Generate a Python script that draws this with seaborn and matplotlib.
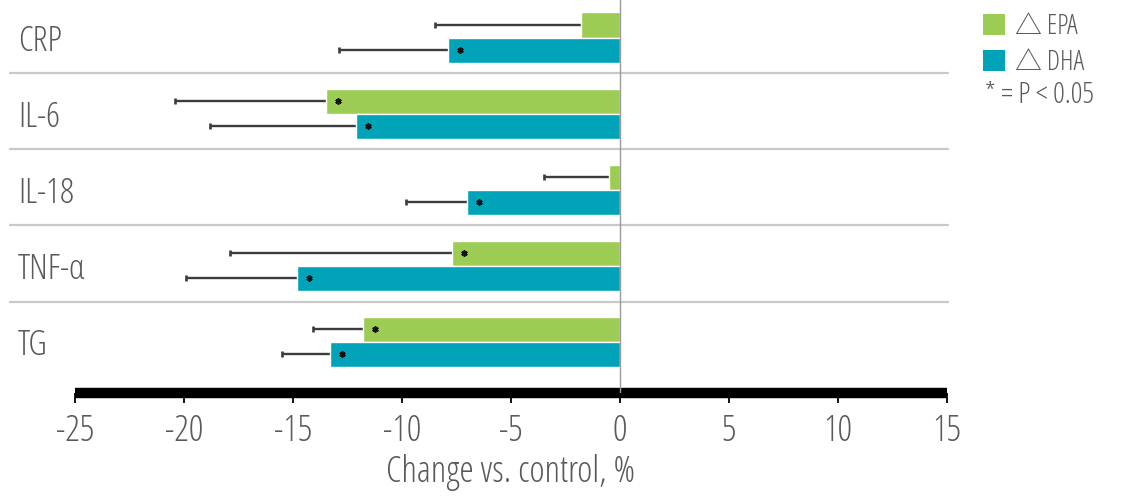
import dataclasses
import os
import matplotlib
matplotlib.use("Agg")
import matplotlib.pyplot as plt
from matplotlib.patches import Patch
from matplotlib import font_manager
import pandas as pd
import seaborn as sns

markers = ["CRP", "IL-6", "IL-18", "TNF-α", "TG"]
epa_change = [-1.8, -13.5, -0.5, -7.7, -11.8]
dha_change = [-7.9, -12.1, -7.0, -14.8, -13.3]
epa_err = [6.7, 6.9, 3.0, 10.2, 2.3]
dha_err = [5.0, 6.7, 2.8, 5.1, 2.2]
epa_sig = [False, True, False, True, True]
dha_sig = [True, True, True, True, True]
series = ["△ EPA", "△ DHA"]
x_ticks = [-25, -20, -15, -10, -5, 0, 5, 10, 15]
x_label = "Change vs. control, %"
note = "* = P < 0.05"

GREEN = "#9dcc55"
TEAL = "#00a3b8"
TEXT = "#5a5a5a"


def register_semi_condensed():
    """Register a semi-condensed regular face under its own family name."""
    entries = list(font_manager.fontManager.ttflist)
    for fam in ["Open Sans", "Noto Sans", "DejaVu Sans", "Roboto", "Lato", "Inter"]:
        for f in entries:
            base = os.path.basename(f.fname).lower()
            if (f.name == fam and "semicondensed" in base and f.style == "normal"
                    and f.weight in (400, "normal", "regular")):
                alias = dataclasses.replace(f, name="Chart Semi", stretch="normal")
                font_manager.fontManager.ttflist.append(alias)
                return "Chart Semi", "normal", 1.0
    for fam in ["Open Sans", "Noto Sans", "DejaVu Sans", "Roboto", "Lato", "Inter"]:
        for f in entries:
            if f.name == fam and str(f.stretch) == "condensed":
                return fam, "condensed", 1.14
    return "Liberation Sans", "normal", 0.85


family, stretch, k = register_semi_condensed()

sns.set_theme(style="white")
plt.rcParams["font.family"] = [family, "DejaVu Sans"]
plt.rcParams["font.stretch"] = stretch
plt.rcParams["font.weight"] = "normal"

df = pd.DataFrame({
    "marker": markers * 2,
    "change": epa_change + dha_change,
    "series": [series[0]] * len(markers) + [series[1]] * len(markers),
})

fig = plt.figure(figsize=(11.24, 4.96), dpi=100)
ax = fig.add_axes([75 / 1124, 1 - 393 / 496, 872 / 1124, 393 / 496])

sns.barplot(data=df, x="change", y="marker", hue="series", orient="h",
            palette=[GREEN, TEAL], width=0.66, errorbar=None, saturation=1,
            legend=False, ax=ax, zorder=3)

ax.set_xlim(-25, 15)
ax.set_ylim(4.671, -0.493)

# error whiskers (lower side only) and significance stars
for cont, vals, errs, sig in zip(ax.containers, [epa_change, dha_change],
                                 [epa_err, dha_err], [epa_sig, dha_sig]):
    for bar, v, e, s in zip(cont, vals, errs, sig):
        yc = bar.get_y() + bar.get_height() / 2
        ax.hlines(yc, v - e, v, color="#3c3c3c", lw=1.7, zorder=2)
        ax.plot([v - e], [yc], marker="|", ms=5, mew=1.9, color="#3c3c3c", zorder=2)
        if s:
            ax.plot([v + 0.55], [yc], marker=(6, 2, 0), ms=4.5, mew=1.2,
                    color="#111111", zorder=4)

# separators between marker groups
for i in range(len(markers) - 1):
    ax.plot([-28.0, 15.05], [i + 0.47, i + 0.47], color="#c9c9c9", lw=1.6,
            clip_on=False, zorder=1)

ax.axvline(0, color="#9a9a9a", lw=1, zorder=4)

for side in ["top", "right", "left"]:
    ax.spines[side].set_visible(False)
ax.spines["bottom"].set_linewidth(7.5)
ax.spines["bottom"].set_color("black")
ax.spines["bottom"].set_capstyle("butt")

ax.set_xticks(x_ticks)
ax.set_xticklabels([str(t) for t in x_ticks])
ax.tick_params(axis="x", direction="out", length=7.5, width=1.3, color="black",
               pad=7, labelsize=23 * k, labelcolor=TEXT, bottom=True)
ax.tick_params(axis="y", length=0, pad=41, labelsize=22 * k, labelcolor=TEXT)
for lab in ax.get_yticklabels():
    lab.set_horizontalalignment("left")

ax.set_xlabel(x_label, fontsize=23 * k, color=TEXT, labelpad=3)
ax.set_ylabel("")

handles = [Patch(facecolor=GREEN, edgecolor="none", label=series[0]),
           Patch(facecolor=TEAL, edgecolor="none", label=series[1])]
leg = fig.legend(handles=handles, loc="upper left",
                 bbox_to_anchor=(983 / 1124, 1 - 13 / 496),
                 frameon=False, fontsize=17 * k, handlelength=0.8, handleheight=0.8,
                 handletextpad=0.4, labelspacing=0.3, borderpad=0, borderaxespad=0,
                 labelcolor=TEXT)
for t in leg.get_texts():
    t.set_fontfamily([family, "Noto Sans CJK SC", "DejaVu Sans"])
fig.text(985 / 1124, 1 - 95 / 496, note, fontsize=18.5 * k, color=TEXT,
         va="center", ha="left")

fig.savefig("out.png", dpi=100)
